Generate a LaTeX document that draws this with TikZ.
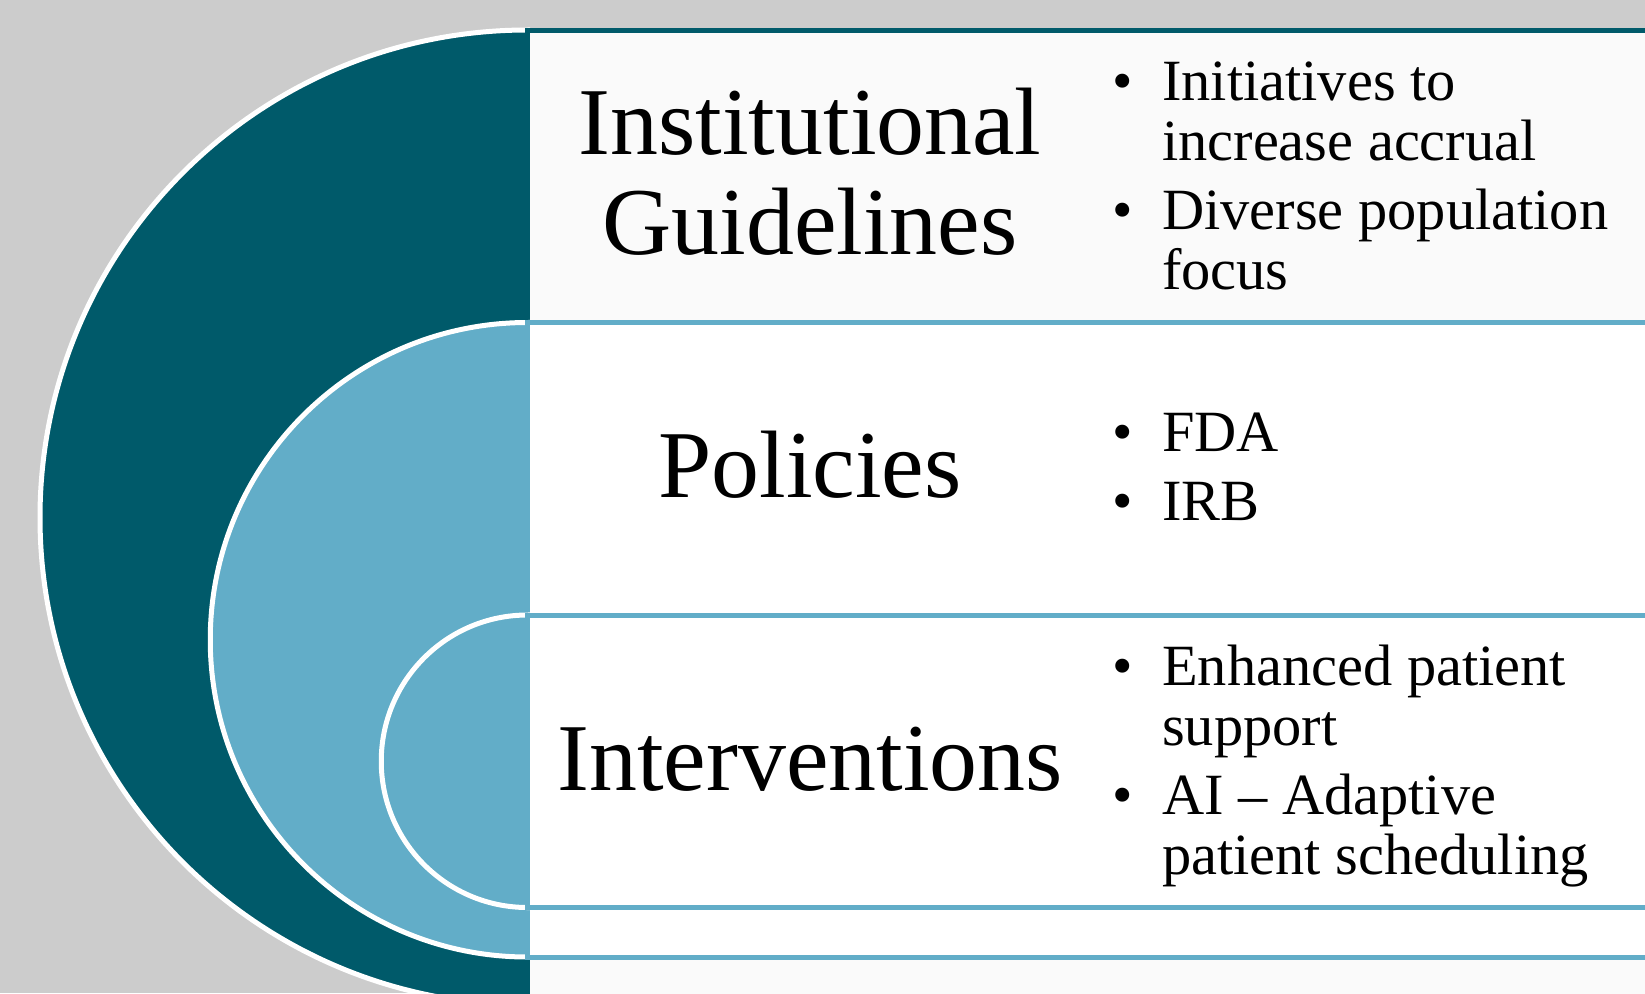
\documentclass[tikz,border=0pt]{standalone}
\usepackage{fontspec}
\setmainfont{Liberation Serif}

\definecolor{canvasgray}{HTML}{CCCCCC}
\definecolor{ringdark}{HTML}{005A6A}
\definecolor{ringlight}{HTML}{62ADC8}
\definecolor{panelpale}{HTML}{FAFAFA}

% bullet list: a bullet column and a text column, first row on the baseline
\newenvironment{bullets}{\begin{tabular}[t]{@{}p{49.5pt}@{}l@{}}}{\end{tabular}}
\newcommand{\bmark}{•}

\begin{document}
\begin{tikzpicture}[x=1pt,y=-1pt,
  ringfill/.style={draw=white, line width=5pt},
  panel/.style={line width=5pt},
  heading/.style={font=\fontsize{95.8}{100}\selectfont, align=center, inner sep=0pt, anchor=base},
  points/.style={font=\fontsize{58.4}{60}\selectfont, inner sep=0pt, anchor=base west},
]
\useasboundingbox (0,0) rectangle (1645,993);
\clip (0,0) rectangle (1645,993);
\fill[canvasgray] (0,0) rectangle (1645,993);

% outer level: dark half disc and its panel
\path[ringfill, fill=ringdark] (527.5,30) arc[start angle=-90, end angle=-270, radius=487.5] -- cycle;
\path[panel, draw=ringdark, fill=panelpale] (527.5,30) rectangle (1700,1100);

% middle level
\path[ringfill, fill=ringlight] (527.5,322.5) arc[start angle=-90, end angle=-270, radius=317.25] -- cycle;
\path[panel, draw=ringlight, fill=white] (527.5,322.5) rectangle (1700,957);

% inner level
\path[ringfill, fill=ringlight] (527.5,615) arc[start angle=-90, end angle=-270, radius=146.25] -- cycle;
\path[panel, draw=ringlight, fill=white] (527.5,615) rectangle (1700,907.5);

% headings (anchored on the baseline of the last line)
\node[heading] (guide) at (810,254) {Institutional\\Guidelines};
\node[heading] (policy) at (810,497) {Policies};
\node[heading] (interv) at (810,790) {Interventions};

% bullet lists (anchored on the baseline of the first line)
\node[points] (guidepts) at (1112.5,100) {\begin{bullets}
  \bmark & Initiatives to\\
         & increase accrual\\[9pt]
  \bmark & Diverse population\\
         & focus
\end{bullets}};
\node[points] (policypts) at (1112.5,451) {\begin{bullets}
  \bmark & FDA\\[9pt]
  \bmark & IRB
\end{bullets}};
\node[points] (intervpts) at (1112.5,685) {\begin{bullets}
  \bmark & Enhanced patient\\
         & support\\[9pt]
  \bmark & AI – Adaptive\\
         & patient scheduling
\end{bullets}};
\end{tikzpicture}
\end{document}
